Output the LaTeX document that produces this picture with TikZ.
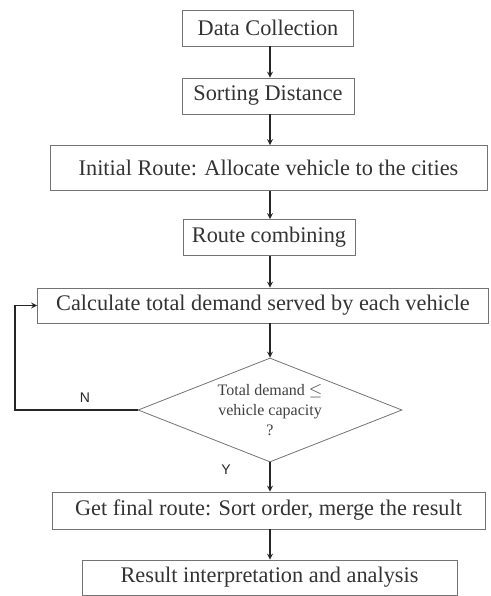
\documentclass[tikz,border=0pt]{standalone}
\usepackage{fontspec}
\setmainfont{Liberation Serif}
\newfontfamily\labelfont{Liberation Sans}
\usetikzlibrary{shapes.geometric}

\begin{document}
\begin{tikzpicture}[
    x=1pt, y=-1pt,
    box/.style={rectangle, draw=black!55, line width=0.8pt, minimum height=36pt, inner sep=0pt, align=center, text=black!80, font=\fontsize{22.3}{24}\selectfont},
    decision/.style={diamond, aspect=2.54, draw=black!55, line width=0.8pt, minimum width=264pt, minimum height=104pt, inner sep=0pt, align=center, text=black!75, font=\fontsize{16}{20}\selectfont},
    arrow/.style={->, >=stealth, line width=1.6pt, black!85},
    yn/.style={font=\labelfont\fontsize{14}{14}\selectfont, text=black!85}
]
    \useasboundingbox (0,0) rectangle (490,596);

    % Steps
    \node[box, minimum width=171pt] (collect) at (268,28) {Data Collection};
    \node[box, minimum width=172pt] (sorting) at (268,96) {Sorting Distance};
    \node[box, minimum width=437pt, minimum height=45pt] (initial) at (268.5,168) {Initial Route: Allocate vehicle to the cities};
    \node[box, minimum width=172pt] (combine) at (269,237.5) {Route combining};
    \node[box, minimum width=451pt, minimum height=35pt] (demand) at (263,305.5) {Calculate total demand served by each vehicle};
    \node[decision] (check) at (270,410) {Total demand $\leq$\\vehicle capacity\\?};
    \node[box, minimum width=433pt, minimum height=37pt] (final) at (268.5,510.5) {Get final route: Sort order, merge the result};
    \node[box, minimum width=375pt, minimum height=35pt] (result) at (269.5,577.5) {Result interpretation and analysis};

    % Loop-back point
    \coordinate (back) at (15,410);

    % Arrows
    \draw[arrow] (collect.south -| check.north) -- (sorting.north -| check.north);
    \draw[arrow] (sorting.south -| check.north) -- (initial.north -| check.north);
    \draw[arrow] (initial.south -| check.north) -- (combine.north -| check.north);
    \draw[arrow] (combine.south -| check.north) -- (demand.north -| check.north);
    \draw[arrow] (demand.south -| check.north) -- (check);
    \draw[arrow] (check) -- (final.north -| check.south);
    \draw[arrow] (final.south -| check.south) -- (result.north -| check.south);
    \draw[arrow] (check.west) -- (back) |- (demand.west);

    % Branch labels
    \node[yn] (no) at (85,398) {N};
    \node[yn] (yes) at (226,470) {Y};
\end{tikzpicture}
\end{document}
